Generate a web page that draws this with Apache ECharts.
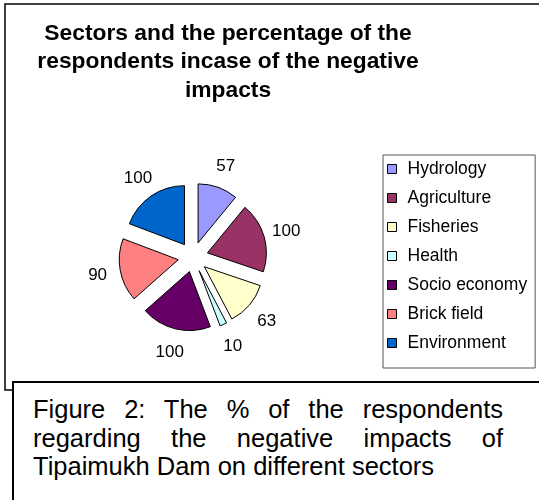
<!DOCTYPE html>
<html>
<head>
<meta charset="utf-8">
<script src="https://cdn.jsdelivr.net/npm/echarts@6/dist/echarts.min.js"></script>
<style>
  html, body { margin: 0; padding: 0; background: #fff; overflow: hidden; }
  #demo { width: 539px; height: 500px; }
  #caption {
    position: absolute; left: 12px; top: 381px; width: 470px; padding: 12px 100px 30px 19px;
    border: 2px solid #000; background: #fff;
    font-family: "Liberation Sans", Arial, sans-serif; font-size: 25.5px; line-height: 28.5px;
    text-align: justify; color: #000;
  }
</style>
</head>
<body>
<div id="demo"></div>
<div id="caption">Figure 2: The % of the respondents regarding the negative impacts of Tipaimukh Dam on different sectors</div>
<script>
// 扇区名称和对应的百分比
var sectors = ['Hydrology', 'Agriculture', 'Fisheries', 'Health', 'Socio economy', 'Brick field', 'Environment'];
var percents = [57, 100, 63, 10, 100, 90, 100];
var colors = ['#9999FF', '#993366', '#FFFFCC', '#CCFFFF', '#660066', '#FF8080', '#0066CC'];

var pieData = [];
var labelData = [];
for (var i = 0; i < sectors.length; i++) {
    pieData.push({ name: sectors[i], value: percents[i], selected: true, itemStyle: { color: colors[i] } });
    labelData.push({ name: sectors[i], value: percents[i] });
}

var chartDom = document.getElementById('demo');
var myChart = echarts.init(chartDom);
var option;
option = {
    animation: false,
    title: {
        text: 'Sectors and the percentage of the\nrespondents incase of the negative\nimpacts',
        left: 228,
        top: 19,
        padding: 0,
        textAlign: 'center',
        textStyle: {
            fontFamily: 'Liberation Sans',
            fontWeight: 'bold',
            fontSize: 22.8,
            lineHeight: 28.5,
            color: '#000'
        }
    },
    legend: {
        orient: 'vertical',
        left: 383,
        top: 155,
        padding: [5, 8, 16, 4],
        itemGap: 11,
        itemWidth: 9,
        itemHeight: 9,
        icon: 'rect',
        borderColor: '#555',
        borderWidth: 1,
        selectedMode: false,
        itemStyle: { borderColor: '#000', borderWidth: 1 },
        textStyle: {
            fontFamily: 'Liberation Sans',
            fontSize: 17.5,
            lineHeight: 18,
            color: '#000',
            padding: [0, 0, 0, 6]
        },
        data: sectors
    },
    graphic: [
        {
            type: 'rect',
            shape: { x: 5, y: 4, width: 600, height: 386 },
            style: { fill: 'none', stroke: '#000', lineWidth: 1.5 },
            z: -1
        }
    ],
    series: [
        {
            type: 'pie',
            center: [193, 257],
            radius: [0, 59],
            startAngle: 90,
            clockwise: true,
            selectedMode: 'multiple',
            selectedOffset: 15,
            silent: true,
            emphasis: { disabled: true },
            itemStyle: { borderColor: '#000', borderWidth: 1 },
            label: { show: false },
            labelLine: { show: false },
            data: pieData
        },
        {
            // 这里是透明的环，只用来放数字标签
            type: 'pie',
            center: [193, 258],
            radius: [87, 101],
            startAngle: 90,
            clockwise: true,
            silent: true,
            emphasis: { disabled: true },
            itemStyle: { color: 'rgba(0,0,0,0)' },
            label: {
                show: true,
                position: 'inside',
                formatter: '{c}',
                fontFamily: 'Liberation Sans',
                fontSize: 17,
                color: '#000'
            },
            labelLine: { show: false },
            data: labelData
        }
    ]
};
option && myChart.setOption(option);
</script>
</body>
</html>
